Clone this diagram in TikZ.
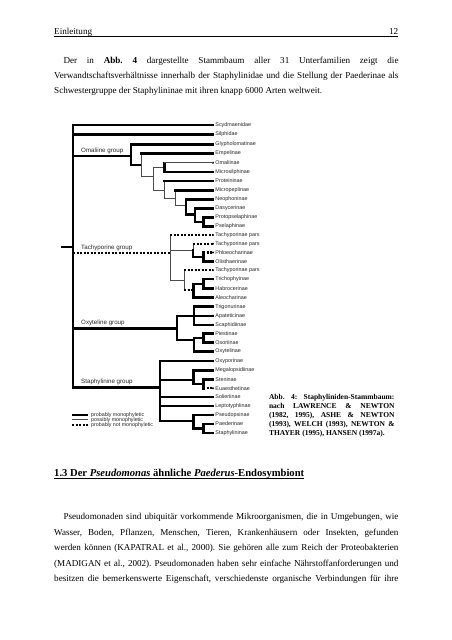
\documentclass[tikz,border=0pt]{standalone}
\usepackage{fontspec}
\setmainfont{Liberation Serif}
\newfontfamily\arialf{Liberation Sans}
\frenchspacing
\newcommand\cladebr[4]{\draw[#1] (#3) -- (#3 |- #4); \draw[#2] (#3 |- #4) -- (#4);}
\tikzset{
  thk/.style={line width=2.4pt, line cap=rect},
  thn/.style={line width=0.8pt, black!70},
  dtd/.style={line width=2.3pt, dash pattern=on 2pt off 1.5pt},
  leaf/.style={anchor=west, inner sep=0pt, text=black!85, font=\arialf\fontsize{5.4}{6}\selectfont},
  grp/.style={anchor=base west, inner sep=0pt, text=black!85, font=\arialf\fontsize{6.2}{7}\selectfont},
  lgd/.style={anchor=west, inner sep=0pt, text=black!85, font=\arialf\fontsize{5.3}{6}\selectfont},
  body/.style={anchor=base west, inner sep=0pt, font=\fontsize{9.1}{11}\selectfont},
  capt/.style={anchor=base west, inner sep=0pt, font=\bfseries\fontsize{7.5}{9}\selectfont},
}
\begin{document}
\begin{tikzpicture}[x=1pt,y=-1pt]
\useasboundingbox (0,0) rectangle (452,640);
\fill[white] (0,0) rectangle (452,640);

% header
\node[body] (hd) at (54,34.3) {Einleitung};
\node[body, anchor=base east] (pg) at (398.3,34.3) {12};
\coordinate (hr1) at (54,36.6);
\coordinate (hr2) at (398.3,36.6);
\draw[line width=0.8pt] (hr1) -- (hr2);

% first paragraph
\node[body] (p1a) at (63.3,63) {\makebox[335pt][s]{Der in \textbf{Abb. 4} dargestellte Stammbaum aller 31 Unterfamilien zeigt die}};
\node[body] (p1b) at (54,78.4) {\makebox[344.3pt][s]{Verwandtschaftsverhältnisse innerhalb der Staphylinidae und die Stellung der Paederinae als}};
\node[body] (p1c) at (54,93.8) {Schwestergruppe der Staphylininae mit ihren knapp 6000 Arten weltweit.};

% leaves
\foreach \i/\yy/\txt in {
 0/125/Scydmaenidae, 1/134.5/Silphidae, 2/144.5/Glypholomatinae, 3/153.3/Empelinae,
 4/162.8/Omaliinae, 5/171.8/Microsilphinae, 6/181/Proteininae, 7/190.3/Micropeplinae,
 8/199.5/Neophoninae, 9/208.5/Dasycerinae, 10/217.5/Protopselaphinae, 11/226.5/Pselaphinae,
 12/235/Tachyporinae pars, 13/243.7/Tachyporinae pars, 14/252.5/Phloeocharinae, 15/261.5/Olisthaerinae,
 16/270.3/Tachyporinae pars, 17/279.2/Trichophyinae, 18/288.3/Habrocerinae, 19/297.5/Aleocharinae,
 20/306.6/Trigonurinae, 21/315.7/Apateticinae, 22/324.8/Scaphidiinae, 23/333.5/Piestinae,
 24/342.5/Osoriinae, 25/351.3/Oxytelinae, 26/361.2/Oxyporinae, 27/370.3/Megalopsidiinae,
 28/379.3/Steninae, 29/388.3/Euaesthetinae, 30/397/Solieriinae, 31/405.9/Leptotyphlinae,
 32/414.8/Pseudopsinae, 33/423.9/Paederinae, 34/433/Staphylininae}
{
  \coordinate (t\i) at (213,\yy);
  \node[leaf] (l\i) at (215.2,\yy) {\txt};
  \fill (t\i) circle (1.15);
}

% internal nodes
\coordinate (R0) at (62,247);
\coordinate (R) at (73,247);
\coordinate (O1) at (131,155.7);
\coordinate (O2) at (141,165);
\coordinate (O3) at (153.3,176.7);
\coordinate (O4) at (164.3,167.3);
\coordinate (O5) at (164.3,190);
\coordinate (O6) at (175,198.3);
\coordinate (O7) at (186,205.5);
\coordinate (O8) at (195,214.5);
\coordinate (O9) at (203.3,222);
\coordinate (T1) at (170,253.3);
\coordinate (TA) at (193,250);
\coordinate (TA2) at (203.3,257);
\coordinate (TB) at (184,280);
\coordinate (TB2) at (193.3,290);
\coordinate (TB3) at (203.3,283.7);
\coordinate (X1) at (176.7,328.3);
\coordinate (X2) at (194,315.7);
\coordinate (X3) at (194,340);
\coordinate (X4) at (203.3,338);
\coordinate (S1) at (160,387.3);
\coordinate (S2) at (193.3,380);
\coordinate (S4) at (203.3,384);
\coordinate (S3) at (193.3,420.7);
\coordinate (S5) at (203.3,428.5);

% root and trunk
\draw[thk] (R0) -- (R);
\draw[thk] (R |- t0) -- (R |- S1);
\draw[thk] (R |- t0) -- (t0);
\draw[thk] (R |- t1) -- (t1);
\draw[thk] (R |- O1) -- (O1);
\draw[dtd] (R |- T1) -- (T1);
\draw[thk] (R |- X1) -- (X1);
\draw[thk] (R |- S1) -- (S1);

% Omaliine group
\cladebr{thk}{thk}{O1}{t2}
\cladebr{thk}{thk}{O1}{O2}
\cladebr{thn}{thk}{O2}{t3}
\cladebr{thn}{thn}{O2}{O3}
\cladebr{thn}{thn}{O3}{O4}
\cladebr{thn}{thn}{O3}{O5}
\cladebr{thk}{thn}{O4}{t4}
\cladebr{thk}{thk}{O4}{t5}
\cladebr{thn}{thk}{O5}{t6}
\cladebr{thn}{thn}{O5}{O6}
\cladebr{thn}{thk}{O6}{t7}
\cladebr{thn}{thn}{O6}{O7}
\cladebr{thk}{thk}{O7}{t8}
\cladebr{thk}{thk}{O7}{O8}
\cladebr{thk}{thk}{O8}{t9}
\cladebr{thk}{thk}{O8}{O9}
\cladebr{thk}{thk}{O9}{t10}
\cladebr{thk}{thk}{O9}{t11}

% Tachyporine group
\cladebr{thn}{dtd}{T1}{t12}
\cladebr{thn}{thn}{T1}{TA}
\cladebr{thn}{thn}{T1}{TB}
\cladebr{thn}{dtd}{TA}{t13}
\cladebr{thk}{thk}{TA}{TA2}
\cladebr{thk}{dtd}{TA2}{t14}
\cladebr{thk}{thk}{TA2}{t15}
\cladebr{thn}{dtd}{TB}{t16}
\cladebr{thn}{dtd}{TB}{TB2}
\cladebr{thk}{thk}{TB2}{TB3}
\cladebr{thk}{thk}{TB2}{t19}
\cladebr{thk}{thk}{TB3}{t17}
\cladebr{thk}{thk}{TB3}{t18}

% Oxyteline group
\cladebr{thk}{thk}{X1}{X2}
\cladebr{thk}{thk}{X1}{X3}
\cladebr{thk}{thk}{X2}{t20}
\cladebr{thk}{thk}{X2}{t21}
\cladebr{thk}{thk}{X2}{t22}
\cladebr{thk}{thk}{X3}{X4}
\cladebr{thk}{thk}{X3}{t25}
\cladebr{thk}{thk}{X4}{t23}
\cladebr{thk}{thk}{X4}{t24}

% Staphylinine group
\cladebr{thk}{thk}{S1}{t26}
\cladebr{thk}{thk}{S1}{S2}
\cladebr{thk}{thk}{S1}{t30}
\cladebr{thk}{thk}{S1}{t31}
\cladebr{thk}{thk}{S1}{S3}
\cladebr{thk}{thk}{S2}{t27}
\cladebr{thk}{thk}{S2}{S4}
\cladebr{thk}{thk}{S4}{t28}
\cladebr{thk}{dtd}{S4}{t29}
\cladebr{thk}{thk}{S3}{t32}
\cladebr{thk}{thk}{S3}{S5}
\cladebr{thk}{thk}{S5}{t33}
\cladebr{thk}{thk}{S5}{t34}

% group labels
\node[grp] (g1) at (81,152.2) {Omaliine group};
\node[grp] (g2) at (81,249.8) {Tachyporine group};
\node[grp] (g3) at (81,324.8) {Oxyteline group};
\node[grp] (g4) at (81,383.8) {Staphylinine group};

% legend
\coordinate (la1) at (72.3,415);   \coordinate (lb1) at (87.7,415);
\coordinate (la2) at (72.3,419.8); \coordinate (lb2) at (87.7,419.8);
\coordinate (la3) at (72.3,424.7); \coordinate (lb3) at (87.7,424.7);
\draw[thk, line cap=butt] (la1) -- (lb1);
\draw[thn] (la2) -- (lb2);
\draw[dtd] (la3) -- (lb3);
\node[lgd] (lt1) at (91,415) {probably monophyletic};
\node[lgd] (lt2) at (91,419.8) {possibly monophyletic};
\node[lgd] (lt3) at (91,424.7) {probably not monophyletic};

% caption
\node[capt] (c1) at (268.8,399.8) {\makebox[125.5pt][s]{Abb. 4: Staphyliniden-Stammbaum:}};
\node[capt] (c2) at (268.8,408.7) {\makebox[125.5pt][s]{nach LAWRENCE \& NEWTON}};
\node[capt] (c3) at (268.8,417.6) {\makebox[125.5pt][s]{(1982, 1995), ASHE \& NEWTON}};
\node[capt] (c4) at (268.8,426.5) {\makebox[125.5pt][s]{(1993), WELCH (1993), NEWTON \&}};
\node[capt] (c5) at (268.8,435.4) {THAYER (1995), HANSEN (1997a).};

% section heading
\node[anchor=base west, inner sep=0pt, font=\bfseries\fontsize{10.6}{12}\selectfont] (h1) at (54,476.3) {1.3 Der \textit{Pseudomonas} ähnliche \textit{Paederus}-Endosymbiont};
\draw[line width=0.7pt] ([yshift=-1.9pt]h1.base west) -- ([yshift=-1.9pt]h1.base east);

% second paragraph
\node[body] (p2a) at (63.3,519.8) {\makebox[335pt][s]{Pseudomonaden sind ubiquitär vorkommende Mikroorganismen, die in Umgebungen, wie}};
\node[body] (p2b) at (54,535.3) {\makebox[344.3pt][s]{Wasser, Boden, Pflanzen, Menschen, Tieren, Krankenhäusern oder Insekten, gefunden}};
\node[body] (p2c) at (54,550.8) {\makebox[344.3pt][s]{werden können (KAPATRAL et al., 2000). Sie gehören alle zum Reich der Proteobakterien}};
\node[body] (p2d) at (54,566.3) {\makebox[344.3pt][s]{(MADIGAN et al., 2002). Pseudomonaden haben sehr einfache Nährstoffanforderungen und}};
\node[body] (p2e) at (54,581.8) {\makebox[344.3pt][s]{besitzen die bemerkenswerte Eigenschaft, verschiedenste organische Verbindungen für ihre}};
\end{tikzpicture}
\end{document}
